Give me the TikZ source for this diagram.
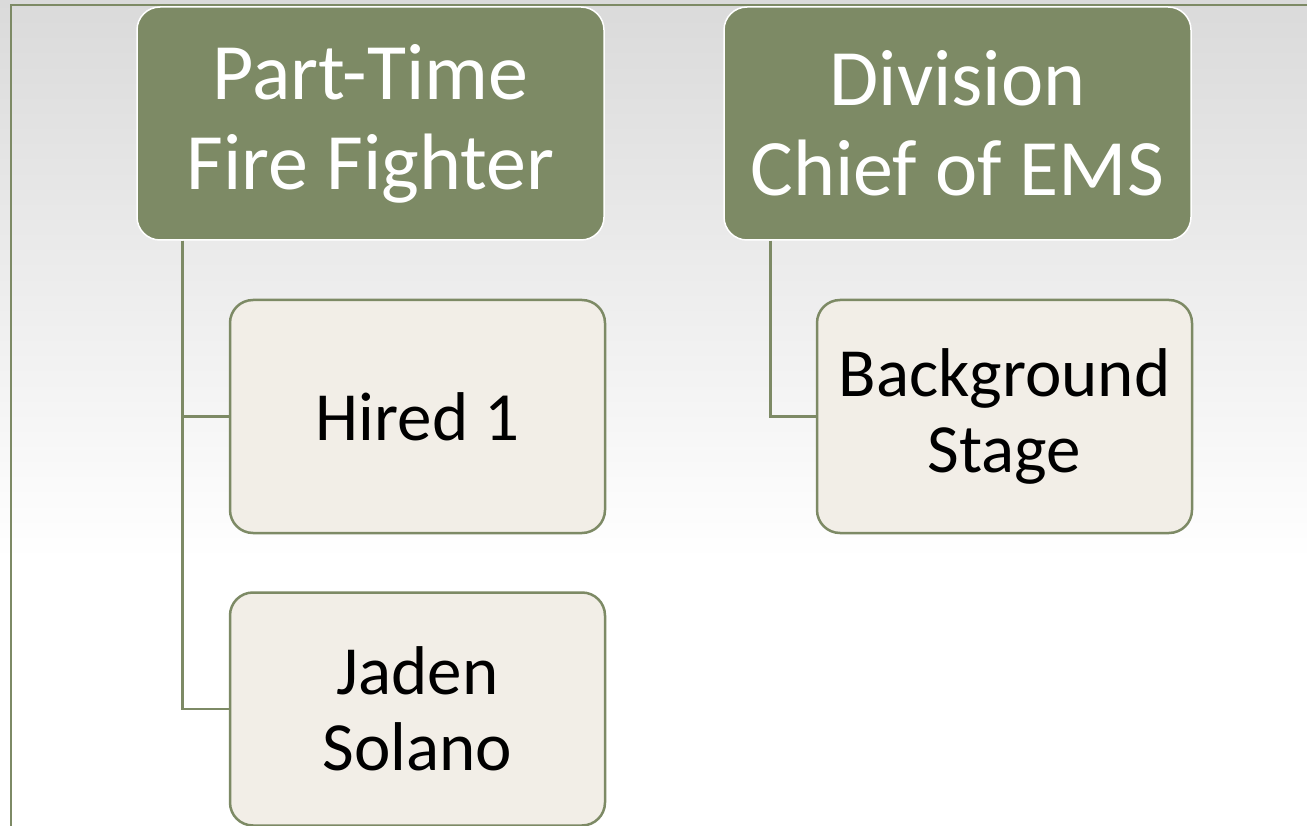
\documentclass[tikz,border=0pt]{standalone}
\usepackage{fontspec}
\setmainfont{Carlito}
\usetikzlibrary{calc}
\definecolor{olivegreen}{HTML}{7D8A65}
\definecolor{paper}{HTML}{F2EEE7}
\definecolor{backgray}{HTML}{DADADA}
\tikzset{
  head/.style={rectangle, rounded corners=23pt, fill=olivegreen, draw=white, line width=1.5pt,
    minimum width=467pt, minimum height=233pt, align=center, text=white,
    font=\fontsize{80}{90}\selectfont},
  child/.style={rectangle, rounded corners=23pt, fill=paper, draw=olivegreen, line width=2.5pt,
    minimum width=375pt, minimum height=233pt, align=center, text=black,
    font=\fontsize{69}{76}\selectfont},
  conn/.style={draw=olivegreen, line width=2.5pt}
}
\begin{document}
\begin{tikzpicture}[x=1pt,y=-1pt]
  \useasboundingbox (0,0) rectangle (1307,826);
  %background of the slide
  \shade[top color=backgray, bottom color=white] (0,0) rectangle (1307,560);
  \fill[white] (0,560) rectangle (1307,826);
  \draw[olivegreen, line width=1.5pt] (1307,5) -- (11,5) -- (11,826);

  \node[head] (pt) at (370.5,123.5) {Part-Time\\Fire Fighter};
  \node[head] (dc) at (957.5,123.5) {Division\\Chief of EMS};

  \node[child] (hired) at (417.5,416.5) {Hired 1};
  \node[child] (jaden) at (417.5,709) {Jaden\\Solano};
  \node[child] (bg) at (1004.5,416.5) {Background\\Stage};

  \draw[conn] ([xshift=46pt]pt.south west) |- (hired.west);
  \draw[conn] ([xshift=46pt]pt.south west) |- (jaden.west);
  \draw[conn] ([xshift=47pt]dc.south west) |- (bg.west);
\end{tikzpicture}
\end{document}
